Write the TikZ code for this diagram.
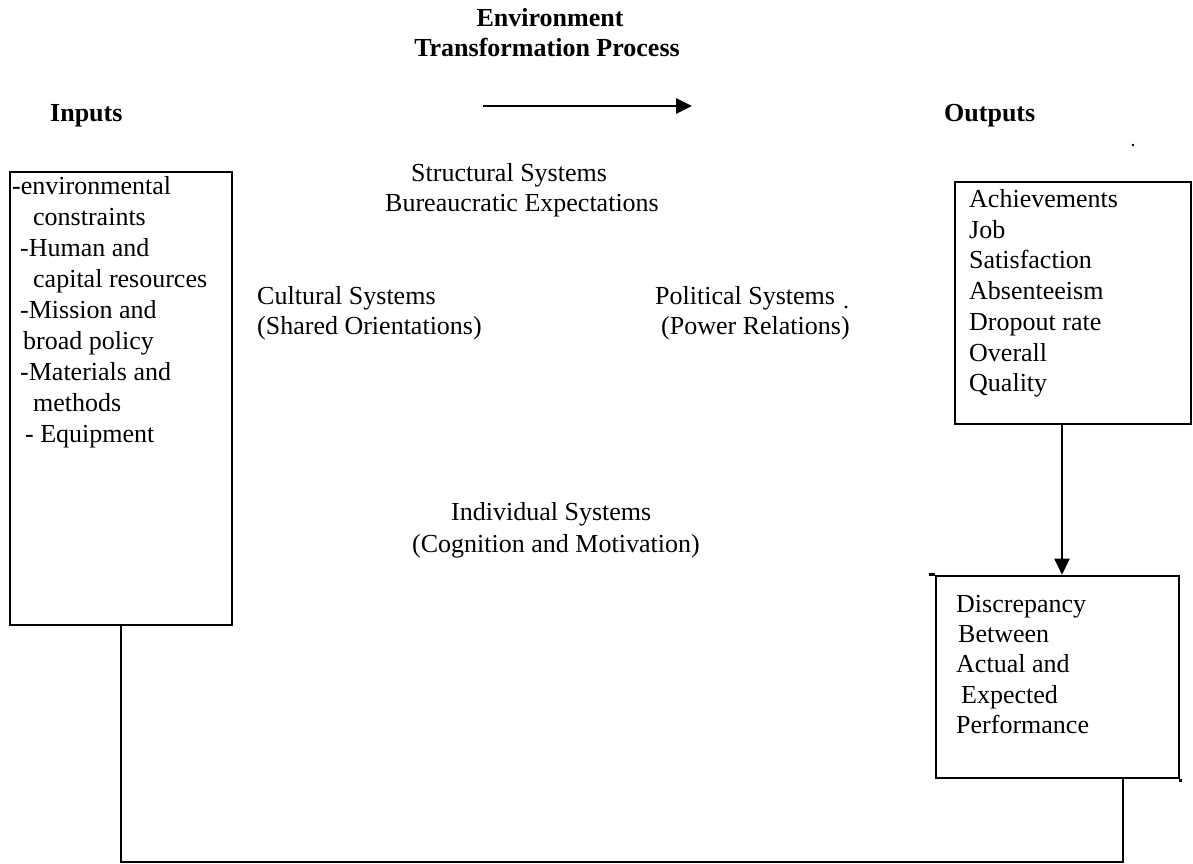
\documentclass[tikz,border=0pt]{standalone}
\usepackage{fontspec}
\setmainfont{Liberation Serif}
\usetikzlibrary{arrows.meta}
\tikzset{
  lbl/.style={anchor=base west, inner sep=0pt, font=\fontsize{26}{31}\selectfont},
  hdr/.style={inner sep=0pt, font=\fontsize{26}{31}\selectfont\bfseries},
  boxed/.style={draw=black, line width=2.6pt, rectangle, inner sep=0pt},
  conn/.style={draw=black, line width=2pt},
  arr/.style={conn, -{Triangle[length=16pt,width=15pt]}}
}
\begin{document}
\begin{tikzpicture}[x=1pt,y=-1pt]
\useasboundingbox (0,0) rectangle (1193,863);
\fill[white] (0,0) rectangle (1193,863);

% headers
\node[hdr, anchor=base] (h1) at (550,26) {Environment};
\node[hdr, anchor=base] (h2) at (547,56) {Transformation Process};
\node[hdr, anchor=base west] (hin) at (50,121) {Inputs};
\node[hdr, anchor=base west] (hout) at (944,121) {Outputs};

% top arrow
\coordinate (ta1) at (483,106);
\coordinate (ta2) at (692,106);
\draw[arr, line width=2.8pt] (ta1) -- (ta2);

% boxes
\node[boxed, minimum width=222pt, minimum height=453pt] (inbox) at (121,398.5) {};
\node[boxed, minimum width=236pt, minimum height=242pt] (outbox) at (1073,303) {};
\node[boxed, minimum width=243pt, minimum height=202pt] (disc) at (1057.5,677) {};
\draw[boxed] (disc.north west) -- ++(-6,0);
\draw[boxed] (disc.south east) -- ++(0,3);

% input box text
\node[lbl] (in1) at (12,194) {-environmental};
\node[lbl] (in2) at (33,225) {constraints};
\node[lbl] (in3) at (20,256) {-Human and};
\node[lbl] (in4) at (33,287) {capital resources};
\node[lbl] (in5) at (20,318) {-Mission and};
\node[lbl] (in6) at (23,349) {broad policy};
\node[lbl] (in7) at (20,380) {-Materials and};
\node[lbl] (in8) at (33,411) {methods};
\node[lbl] (in9) at (25,442) {- Equipment};

% output box text
\node[lbl] (o1) at (969,207) {Achievements};
\node[lbl] (o2) at (969,238) {Job};
\node[lbl] (o3) at (969,268) {Satisfaction};
\node[lbl] (o4) at (969,299) {Absenteeism};
\node[lbl] (o5) at (969,330) {Dropout rate};
\node[lbl] (o6) at (969,361) {Overall};
\node[lbl] (o7) at (969,391) {Quality};

% discrepancy box text
\node[lbl] (d1) at (956,612) {Discrepancy};
\node[lbl] (d2) at (958,642) {Between};
\node[lbl] (d3) at (956,672) {Actual and};
\node[lbl] (d4) at (961,703) {Expected};
\node[lbl] (d5) at (956,733) {Performance};

% middle texts
\node[lbl] (s1) at (411,181) {Structural Systems};
\node[lbl] (s2) at (385,211) {Bureaucratic Expectations};
\node[lbl] (c1) at (257,304) {Cultural Systems};
\node[lbl] (c2) at (257,334) {(Shared Orientations)};
\node[lbl] (p1) at (655,304) {Political Systems};
\node[lbl] (p2) at (661,334) {(Power Relations)};
\node[lbl] (i1) at (451,520) {Individual Systems};
\node[lbl] (i2) at (412,552) {(Cognition and Motivation)};

% stray dots
\fill (846,307) circle (1.6);
\fill (1133,145) circle (1.4);

% output -> discrepancy arrow
\coordinate (ax) at (1062,0);
\draw[arr] (outbox.south -| ax) -- (disc.north -| ax);

% feedback loop
\coordinate (fb1) at (121,862);
\coordinate (fb2) at (1123,862);
\draw[conn] (inbox.south) -- (fb1) -- (fb2) -- (disc.south -| fb2);
\end{tikzpicture}
\end{document}
